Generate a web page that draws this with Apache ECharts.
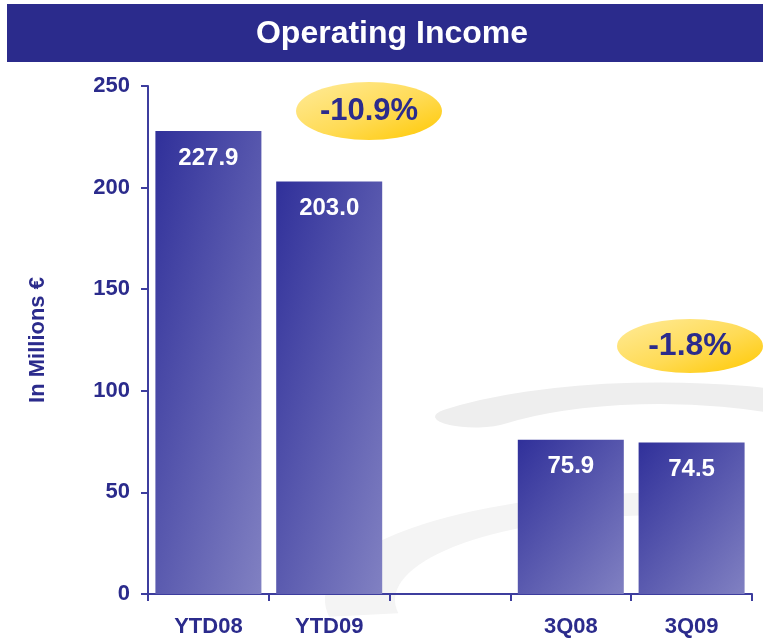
<!DOCTYPE html>
<html>
<head>
<meta charset="utf-8">
<script src="https://cdn.jsdelivr.net/npm/echarts@6/dist/echarts.min.js"></script>
<style>
  html, body { margin: 0; padding: 0; background: #fff; }
  #chart { width: 763px; height: 642px; }
</style>
</head>
<body>
<div id="chart"></div>
<script>
// ============ data ============
const categories = ['YTD08', 'YTD09', '', '3Q08', '3Q09']
const income = [227.9, 203.0, null, 75.9, 74.5]
const changes = ['-10.9%', '-1.8%']
const yTicks = [0, 50, 100, 150, 200, 250]

const navy = '#2b2b8c'
const font = 'Liberation Sans, Arial, sans-serif'
const barW = 106
const plotH = 508

const ellipsePath = 'path://M0,50 A50,50 0 1,1 100,50 A50,50 0 1,1 0,50 Z'
const yellow = new echarts.graphic.LinearGradient(0, 0, 1, 1, [
  { offset: 0, color: '#ffeb9a' },
  { offset: 0.55, color: '#ffdb55' },
  { offset: 1, color: '#ffc800' }
])

// shade: darker top-left, lighter to the right and towards the bottom
const barColor = (p) => {
  const h = Math.max(1, (p.value / yTicks[yTicks.length - 1]) * plotH)
  const a = 0.45 / barW
  const b = 0.5 / h
  const s = a * a + b * b
  return new echarts.graphic.LinearGradient(0, 0, a / (barW * s), b / (h * s), [
    { offset: 0, color: '#30309a' },
    { offset: 1, color: '#8585c4' }
  ])
}

const chart = echarts.init(document.getElementById('chart'))
chart.setOption({
  backgroundColor: '#ffffff',
  animation: false,
  graphic: [
    // faint swoosh in the background
    {
      type: 'arc', z: -10, silent: true,
      x: 660, y: 458, scaleY: 0.27,
      shape: { cx: 0, cy: 0, r: 240, startAngle: Math.PI * 1.22, endAngle: Math.PI * 2.25 },
      style: { stroke: '#eeeeee', lineWidth: 80, fill: null, lineCap: 'round' }
    },
    {
      type: 'arc', z: -10, silent: true,
      x: 660, y: 600, scaleY: 0.32,
      shape: { cx: 0, cy: 0, r: 300, startAngle: Math.PI * 0.95, endAngle: Math.PI * 1.5 },
      style: { stroke: '#f4f4f4', lineWidth: 70, fill: null }
    },
    // title bar
    {
      type: 'rect', left: 7, top: 4, z: 10,
      shape: { width: 756, height: 58 },
      style: { fill: navy }
    },
    {
      type: 'text', x: 392, y: 34, z: 11,
      style: {
        text: 'Operating Income',
        fill: '#ffffff',
        font: 'bold 32px ' + font,
        align: 'center',
        verticalAlign: 'middle'
      }
    }
  ],
  grid: { left: 148, right: 11, top: 86, bottom: 48 },
  xAxis: {
    type: 'category',
    data: categories,
    axisLine: { lineStyle: { color: '#3d3d9e', width: 2 } },
    axisTick: { show: true, length: 7, lineStyle: { color: '#3d3d9e', width: 2 } },
    axisLabel: { color: navy, fontSize: 22, fontWeight: 'bold', fontFamily: font, margin: 22 }
  },
  yAxis: {
    type: 'value',
    min: yTicks[0],
    max: yTicks[yTicks.length - 1],
    interval: 50,
    name: 'In Millions €',
    nameLocation: 'middle',
    nameRotate: 90,
    nameGap: 99,
    nameTextStyle: { color: navy, fontSize: 22, fontWeight: 'bold', fontFamily: font },
    axisLine: { show: true, lineStyle: { color: '#3d3d9e', width: 2 } },
    axisTick: { show: true, length: 7, lineStyle: { color: '#3d3d9e', width: 2 } },
    axisLabel: { color: navy, fontSize: 22, fontWeight: 'bold', fontFamily: font, margin: 18 },
    splitLine: { show: false }
  },
  series: [
    {
      type: 'bar',
      data: income,
      barWidth: barW,
      itemStyle: { color: barColor },
      label: {
        show: true,
        position: 'insideTop',
        distance: 15,
        color: '#ffffff',
        fontSize: 24,
        fontWeight: 'bold',
        fontFamily: font,
        formatter: (p) => p.value.toFixed(1)
      },
      markPoint: {
        symbol: ellipsePath,
        silent: true,
        itemStyle: { color: yellow },
        label: {
          show: true,
          color: navy,
          fontWeight: 'bold',
          fontFamily: font,
          formatter: (p) => p.name
        },
        data: [
          { name: changes[0], x: 369, y: 111, symbolSize: [146, 58], label: { fontSize: 31 } },
          { name: changes[1], x: 690, y: 346, symbolSize: [146, 54], label: { fontSize: 32 } }
        ]
      }
    }
  ]
})
</script>
</body>
</html>
